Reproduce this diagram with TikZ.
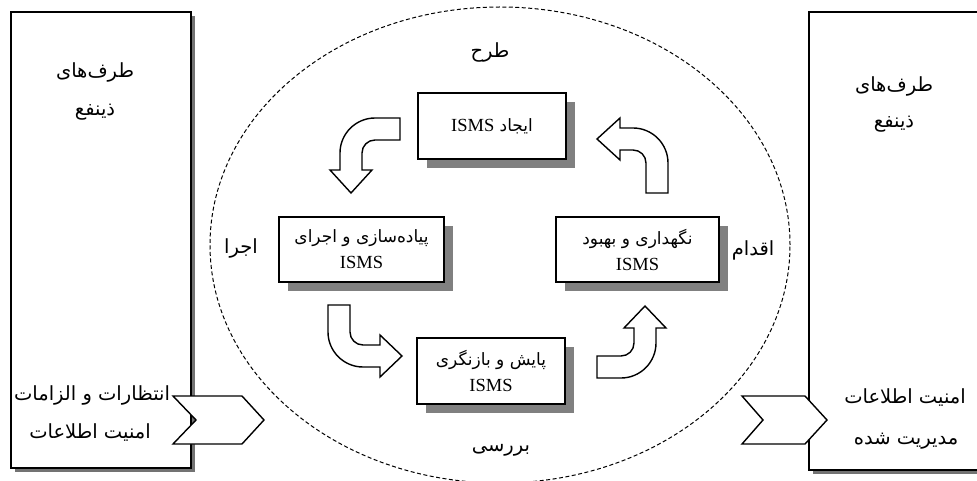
\documentclass[tikz,border=0pt]{standalone}
\usepackage{fontspec}
\setmainfont{Liberation Serif}
\newfontfamily\fa[Script=Arabic]{DejaVu Sans}
\TeXXeTstate=1
\usetikzlibrary{shadows}
\newcommand\RTL[1]{{\fa\beginR #1\endR}}
\begin{document}
\begin{tikzpicture}[x=1pt,y=-1pt,
  bigbox/.style={draw=black, line width=1.4pt, fill=white, inner sep=0pt,
    drop shadow={shadow xshift=4pt, shadow yshift=-4pt, fill=black!55, opacity=1}},
  stagebox/.style={draw=black, line width=1.4pt, fill=white, inner sep=0pt, align=center,
    font=\fontsize{18.5}{26}\selectfont,
    drop shadow={shadow xshift=9pt, shadow yshift=-9pt, fill=black!50, opacity=1}},
  blockarrow/.style={draw=black, line width=1.4pt, fill=white, line join=miter},
  label/.style={inner sep=0pt, font=\fontsize{19.5}{22}\selectfont},
]
\clip (0,0) rectangle (977,481);
\fill[white] (0,0) rectangle (977,481);

% outer boxes
\node[bigbox, minimum width=180pt, minimum height=456pt] (L) at (101,240) {};
\node[bigbox, minimum width=200pt, minimum height=458pt] (R) at (909,241) {};

% dashed ellipse
\draw[line width=1pt, dash pattern=on 4pt off 2.5pt] (500,245) ellipse [x radius=290pt, y radius=238pt];

% stage boxes
\node[stagebox, minimum width=148pt, minimum height=66pt] (T) at (492,126)
  {{\fontsize{17}{22}\selectfont\RTL{ایجاد {\rmfamily\fontsize{18.5}{22}\selectfont\beginL ISMS\endL}}}};
\node[stagebox, minimum width=165pt, minimum height=65pt] (W) at (361.5,249.5)
  {{\fontsize{17}{22}\selectfont\RTL{پیاده‌سازی و اجرای}}\\ISMS};
\node[stagebox, minimum width=163pt, minimum height=65pt] (E) at (637.5,249.5)
  {{\fontsize{17}{22}\selectfont\RTL{نگهداری و بهبود}}\\ISMS};
\node[stagebox, minimum width=148pt, minimum height=66pt] (B) at (491,371)
  {{\fontsize{17}{22}\selectfont\RTL{پایش و بازنگری}}\\ISMS};

% curved block arrows
\draw[blockarrow] (400,118) -- (375,118) .. controls (355.7,118) and (340,133.7) .. (340,153)
  -- (340,170) -- (330,170) -- (351,193) -- (372,170) -- (362,170) -- (362,153)
  .. controls (362,145.8) and (367.8,140) .. (375,140) -- (400,140) -- cycle;
\draw[blockarrow] (620,128) -- (633,128) .. controls (652.3,128) and (668,143.7) .. (668,163)
  -- (668,193) -- (646,193) -- (646,163) .. controls (646,155.8) and (640.2,150) .. (633,150)
  -- (620,150) -- (620,160) -- (597,139) -- (620,118) -- cycle;
\draw[blockarrow] (328,305) -- (328,332) .. controls (328,351.3) and (343.7,367) .. (363,367)
  -- (380,367) -- (380,377) -- (402,356) -- (380,335) -- (380,345) -- (363,345)
  .. controls (355.8,345) and (350,339.2) .. (350,332) -- (350,305) -- cycle;
\draw[blockarrow] (597,356) -- (621,356) .. controls (628.2,356) and (634,350.2) .. (634,343)
  -- (634,328) -- (624,328) -- (645,306) -- (666,328) -- (656,328) -- (656,343)
  .. controls (656,362.3) and (640.3,378) .. (621,378) -- (597,378) -- cycle;

% input / output chevrons
\draw[blockarrow] (173,396) -- (242,396) -- (264,420) -- (242,444) -- (173,444) -- (196,420) -- cycle;
\draw[blockarrow] (742,396) -- (805,396) -- (827,420) -- (805,444) -- (742,444) -- (763,420) -- cycle;

% phase labels
\node[label] (plan) at (490,52) {\RTL{طرح}};
\node[label] (do) at (241,248) {\RTL{اجرا}};
\node[label] (act) at (753,250) {\RTL{اقدام}};
\node[label] (check) at (501,450) {\RTL{بررسی}};

% outer labels
\node[label] (l1) at (95,72) {\RTL{طرف‌های}};
\node[label] (l2) at (95,112) {\RTL{ذینفع}};
\node[label] (l3) at (92,395) {\RTL{انتظارات و الزامات}};
\node[label] (l4) at (90,433) {\RTL{امنیت اطلاعات}};
\node[label] (r1) at (894,86) {\RTL{طرف‌های}};
\node[label] (r2) at (894,124) {\RTL{ذینفع}};
\node[label] (r3) at (905,398) {\RTL{امنیت اطلاعات}};
\node[label] (r4) at (906,441) {\RTL{مدیریت شده}};
\end{tikzpicture}
\end{document}
